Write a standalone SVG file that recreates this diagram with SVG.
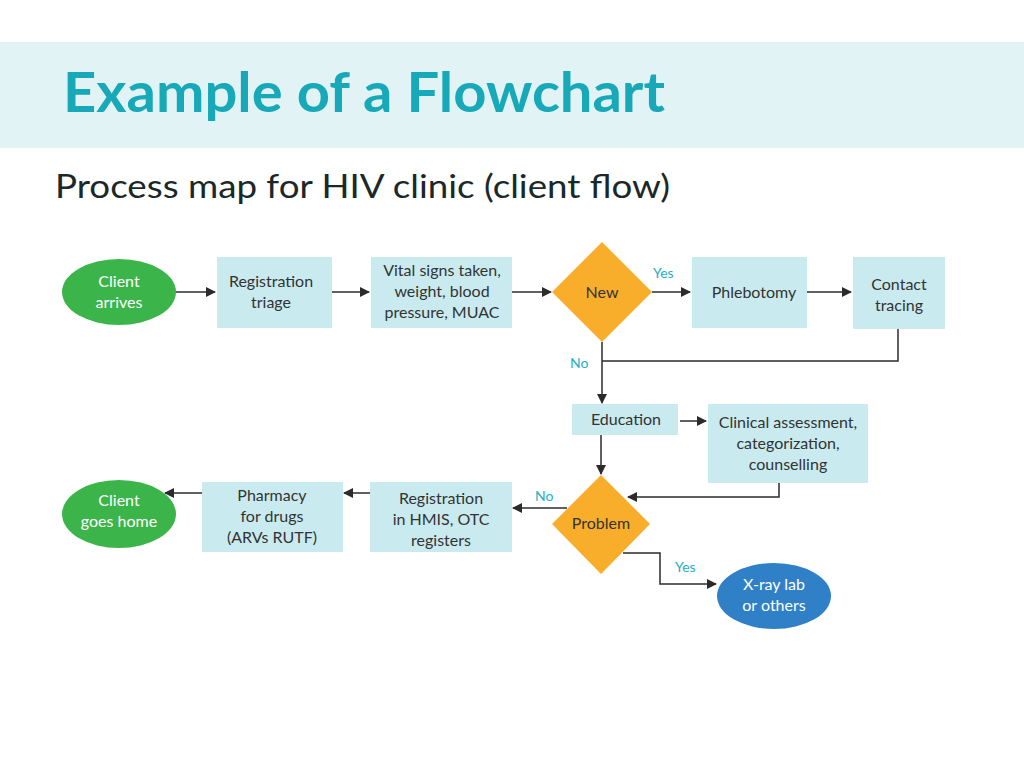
<svg xmlns="http://www.w3.org/2000/svg" width="1024" height="768" viewBox="0 0 1024 768">
<defs>
<marker id="ah" markerWidth="10" markerHeight="10" refX="9" refY="5" orient="auto" markerUnits="userSpaceOnUse">
<path d="M0,0 L10,5 L0,10 Z" fill="#2b2b2b"/>
</marker>
<style>
.box{fill:#c9ebf0;}
.term{fill:#3bb54a;}
.dec{fill:#f8ae2a;}
.oth{fill:#2f80c6;}
.t{font-family:Lato,"Liberation Sans",sans-serif;font-size:16px;fill:#333;text-anchor:middle;}
.w{font-family:Lato,"Liberation Sans",sans-serif;font-size:16px;fill:#fff;text-anchor:middle;}
.lbl{font-family:Lato,"Liberation Sans",sans-serif;font-size:14px;fill:#1fb0c4;}
.c{fill:none;stroke:#2b2b2b;stroke-width:1.5;}
</style>
</defs>
<rect width="1024" height="768" fill="#fff"/>
<rect x="0" y="42" width="1024" height="106" fill="#e2f3f6"/>
<text x="63" y="112" font-family="Lato,'Liberation Sans',sans-serif" font-weight="bold" font-size="55" fill="#17a9b8" textLength="602" lengthAdjust="spacingAndGlyphs">Example of a Flowchart</text>
<text x="55" y="198" font-family="Lato,'Liberation Sans',sans-serif" font-size="32" fill="#1a2828" textLength="615" lengthAdjust="spacingAndGlyphs">Process map for HIV clinic (client flow)</text>

<g id="connectors">
<path class="c" d="M176,292 H215" marker-end="url(#ah)"/>
<path class="c" d="M332,292 H369" marker-end="url(#ah)"/>
<path class="c" d="M512,292 H551" marker-end="url(#ah)"/>
<path class="c" d="M652,292 H690" marker-end="url(#ah)"/>
<path class="c" d="M807,292 H851" marker-end="url(#ah)"/>
<path class="c" d="M898,329 V361 H602"/>
<path class="c" d="M602,342 V403" marker-end="url(#ah)"/>
<path class="c" d="M680,421 H706" marker-end="url(#ah)"/>
<path class="c" d="M601,435 V474" marker-end="url(#ah)"/>
<path class="c" d="M779,483 V497 H628" marker-end="url(#ah)"/>
<path class="c" d="M567,508 H513" marker-end="url(#ah)"/>
<path class="c" d="M370,493 H344" marker-end="url(#ah)"/>
<path class="c" d="M202,493 H165" marker-end="url(#ah)"/>
<path class="c" d="M623,553 H660 V584 H716" marker-end="url(#ah)"/>
<text class="lbl" x="653" y="278">Yes</text>
<text class="lbl" x="570" y="368">No</text>
<text class="lbl" x="535" y="501">No</text>
<text class="lbl" x="675" y="572">Yes</text>
</g>

<g id="client-arrives">
<ellipse class="term" cx="119" cy="292" rx="57" ry="33"/>
<text class="w" x="119" y="287">Client</text>
<text class="w" x="119" y="308">arrives</text>
</g>
<g id="registration-triage">
<rect class="box" x="217" y="257" width="115" height="71"/>
<text class="t" x="271" y="287">Registration</text>
<text class="t" x="271" y="308">triage</text>
</g>
<g id="vital-signs">
<rect class="box" x="371" y="257" width="141" height="71"/>
<text class="t" x="442" y="276">Vital signs taken,</text>
<text class="t" x="442" y="297">weight, blood</text>
<text class="t" x="442" y="318">pressure, MUAC</text>
</g>
<g id="new">
<polygon class="dec" points="602,242 652,292 602,342 552,292"/>
<text class="t" x="602" y="298">New</text>
</g>
<g id="phlebotomy">
<rect class="box" x="692" y="257" width="115" height="71"/>
<text class="t" x="754" y="298">Phlebotomy</text>
</g>
<g id="contact-tracing">
<rect class="box" x="853" y="257" width="92" height="72"/>
<text class="t" x="899" y="290">Contact</text>
<text class="t" x="899" y="311">tracing</text>
</g>
<g id="education">
<rect class="box" x="572" y="404" width="106" height="31"/>
<text class="t" x="626" y="425">Education</text>
</g>
<g id="clinical-assessment">
<rect class="box" x="708" y="404" width="160" height="79"/>
<text class="t" x="788" y="428">Clinical assessment,</text>
<text class="t" x="788" y="449">categorization,</text>
<text class="t" x="788" y="470">counselling</text>
</g>
<g id="problem">
<polygon class="dec" points="601,475 650,524 601,574 552,524"/>
<text class="t" x="601" y="529">Problem</text>
</g>
<g id="registration-hmis">
<rect class="box" x="370" y="482" width="142" height="70"/>
<text class="t" x="441" y="504">Registration</text>
<text class="t" x="441" y="525">in HMIS, OTC</text>
<text class="t" x="441" y="546">registers</text>
</g>
<g id="pharmacy">
<rect class="box" x="202" y="482" width="141" height="70"/>
<text class="t" x="272" y="501">Pharmacy</text>
<text class="t" x="272" y="522">for drugs</text>
<text class="t" x="272" y="543">(ARVs RUTF)</text>
</g>
<g id="client-goes-home">
<ellipse class="term" cx="119" cy="514" rx="57" ry="34"/>
<text class="w" x="119" y="506">Client</text>
<text class="w" x="119" y="527">goes home</text>
</g>
<g id="xray">
<ellipse class="oth" cx="774" cy="596" rx="57" ry="33"/>
<text class="w" x="774" y="590">X-ray lab</text>
<text class="w" x="774" y="611">or others</text>
</g>
</svg>
